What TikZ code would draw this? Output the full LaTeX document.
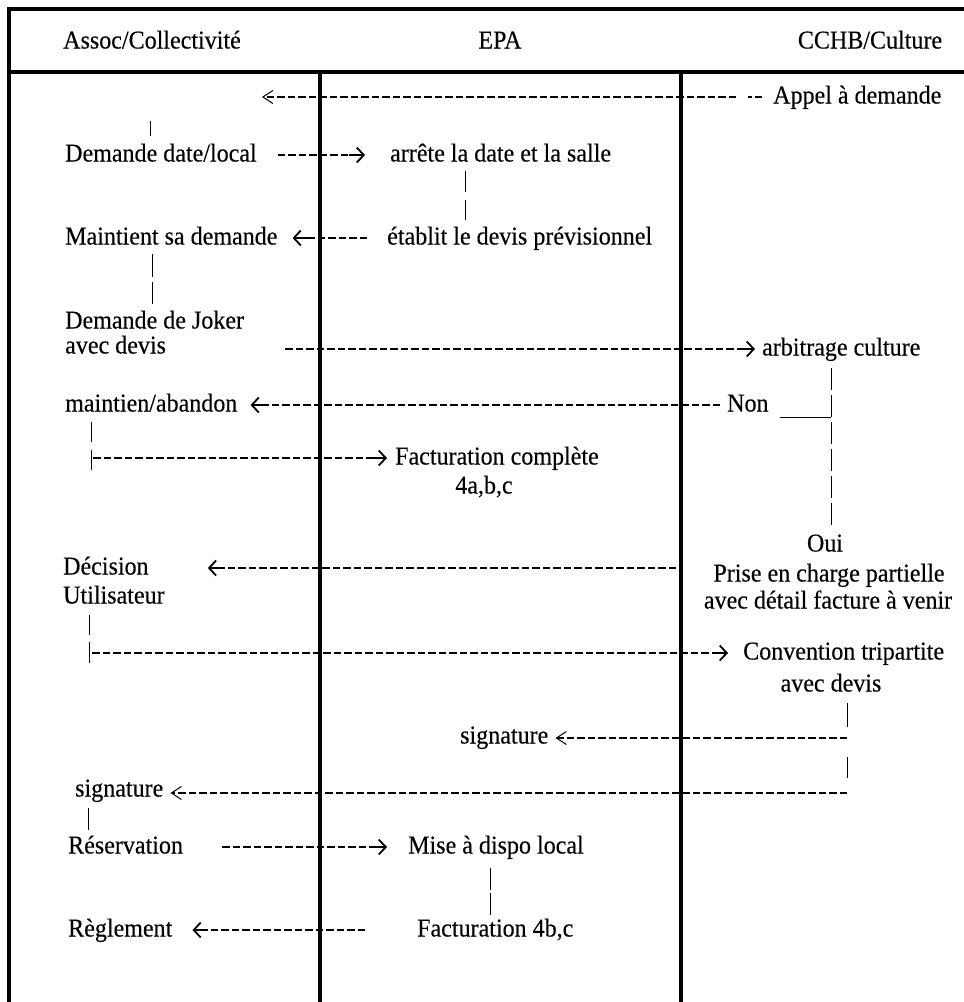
\documentclass[tikz,border=0pt]{standalone}
\usepackage{fontspec}
\setmainfont{Liberation Serif}[FakeStretch=0.935,FakeBold=0.25]
\usetikzlibrary{arrows.meta,calc}
\newcommand\dashfwd[2]{%
  \draw[dl,shorten >=16pt] (#1) -- (#2);
  \draw[barb] ($(#2)!16pt!(#1)$) -- (#2);}
\begin{document}
\begin{tikzpicture}[x=1pt,y=-1pt,
  txt/.style={inner sep=0pt, anchor=west, text height=18pt, text depth=5pt,
              font=\fontsize{25.7}{28}\selectfont},
  ctxt/.style={txt, anchor=center},
  frameline/.style={line width=4pt},
  lane/.style={line width=3.6pt},
  dl/.style={line width=2pt, dash pattern=on 7.5pt off 3pt},
  tick/.style={line width=0.9pt},
  longdash/.style={line width=0.9pt, dash pattern=on 22pt off 5pt},
  barb/.style={line width=1.8pt, -{Straight Barb[length=7pt,width=15pt,line width=1.8pt]}},
  lt/.style={dl, -{Straight Barb[length=10pt,width=13pt,line width=1pt]}},
]
\useasboundingbox[fill=white] (0,0) rectangle (964,1002);

% frame and lanes
\draw[frameline] (9,1002) -- (9,9) -- (964,9);
\draw[lane] (9,72) -- (964,72);
\draw[lane] (320,72) -- (320,1002);
\draw[lane] (681,72) -- (681,1002);

% headers
\node[ctxt] (h1) at (152,42) {Assoc/Collectivité};
\node[ctxt] (h2) at (500,42) {EPA};
\node[ctxt] (h3) at (870,42) {CCHB/Culture};

% row 1
\node[txt] (appel) at (773,97) {Appel à demande};
\coordinate (a1tip) at (262,97);
\draw[dl] ([xshift=-11pt]appel.west) -- ([xshift=-25pt]appel.west);
\draw[lt] ([xshift=-37pt]appel.west) -- (a1tip);
\draw[tick] (150,121) -- (150,136);

% row 2
\node[txt] (dd) at (65,155) {Demande date/local};
\node[txt] (arr) at (390,155) {arrête la date et la salle};
\coordinate (a2s) at ([xshift=21pt]dd.east);
\coordinate (a2e) at ([xshift=-25pt]arr.west);
\dashfwd{a2s}{a2e}
\draw[tick] (465,171) -- (465,192);
\draw[tick] (465,200) -- (465,220);

% row 3
\node[txt] (mt) at (65,238) {Maintient sa demande};
\node[txt] (est) at (387,238) {établit le devis prévisionnel};
\coordinate (a3s) at ([xshift=-20pt]est.west);
\coordinate (a3e) at ([xshift=15pt]mt.east);
\dashfwd{a3s}{a3e}
\draw[tick] (152,254) -- (152,277);
\draw[tick] (152,282) -- (152,304);

% row 4
\node[txt] (jk1) at (65,322) {Demande de Joker};
\node[txt] (jk2) at (65,347) {avec devis};
\node[txt] (arb) at (762,349) {arbitrage culture};
\coordinate (a4s) at (285,349);
\coordinate (a4e) at ([xshift=-7pt]arb.west);
\dashfwd{a4s}{a4e}
\draw[longdash] (831,368) -- (831,528);

% row 5
\node[txt] (ma) at (65,405) {maintien/abandon};
\node[txt] (non) at (727,405) {Non};
\coordinate (a5s) at ([xshift=-7pt]non.west);
\coordinate (a5e) at ([xshift=13pt]ma.east);
\dashfwd{a5s}{a5e}
\coordinate (nonr) at (831,417);
\draw[tick] (780,417) -- (nonr);

% row 6
\draw[tick] (91,422) -- (91,442);
\draw[tick] (91,450) -- (91,470);
\node[txt] (fc) at (395,458) {Facturation complète};
\node[ctxt] (fc2) at (484,487) {4a,b,c};
\coordinate (a6s) at (93,458);
\coordinate (a6e) at ([xshift=-8pt]fc.west);
\dashfwd{a6s}{a6e}

% row 7
\node[ctxt] (oui) at (825,545) {Oui};
\node[ctxt] (pc) at (829,575) {Prise en charge partielle};
\node[ctxt] (adf) at (828,602) {avec détail facture à venir};
\node[txt] (dec) at (63,568) {Décision};
\node[txt] (util) at (63,597) {Utilisateur};
\coordinate (a7s) at (676,568);
\coordinate (a7e) at ([xshift=59pt]dec.east);
\dashfwd{a7s}{a7e}

% row 8
\draw[tick] (89,615) -- (89,635);
\draw[tick] (89,642) -- (89,663);
\node[txt] (conv) at (743,653) {Convention tripartite};
\node[ctxt] (ad2) at (831,685) {avec devis};
\coordinate (a8s) at (92,653);
\coordinate (a8e) at ([xshift=-15pt]conv.west);
\dashfwd{a8s}{a8e}
\draw[tick] (847,703) -- (847,727);

% row 9
\node[txt] (sig1) at (460,737) {signature};
\coordinate (a9s) at (847,738);
\draw[lt] (a9s) -- ([xshift=7pt]sig1.east |- a9s);
\draw[tick] (847,757) -- (847,778);

% row 10
\node[txt] (sig2) at (75,790) {signature};
\coordinate (a10s) at (847,793);
\draw[lt] (a10s) -- ([xshift=7pt]sig2.east |- a10s);
\draw[tick] (88,808) -- (88,830);

% row 11
\node[txt] (res) at (68,847) {Réservation};
\node[txt] (mise) at (408,847) {Mise à dispo local};
\coordinate (a11s) at ([xshift=39pt]res.east);
\coordinate (a11e) at ([xshift=-21pt]mise.west);
\dashfwd{a11s}{a11e}
\draw[tick] (490,868) -- (490,890);
\draw[tick] (490,893) -- (490,915);

% row 12
\node[txt] (reg) at (68,930) {Règlement};
\node[txt] (fac) at (417,930) {Facturation 4b,c};
\coordinate (a12s) at ([xshift=-52pt]fac.west);
\coordinate (a12e) at ([xshift=20pt]reg.east);
\dashfwd{a12s}{a12e}
\end{tikzpicture}
\end{document}
